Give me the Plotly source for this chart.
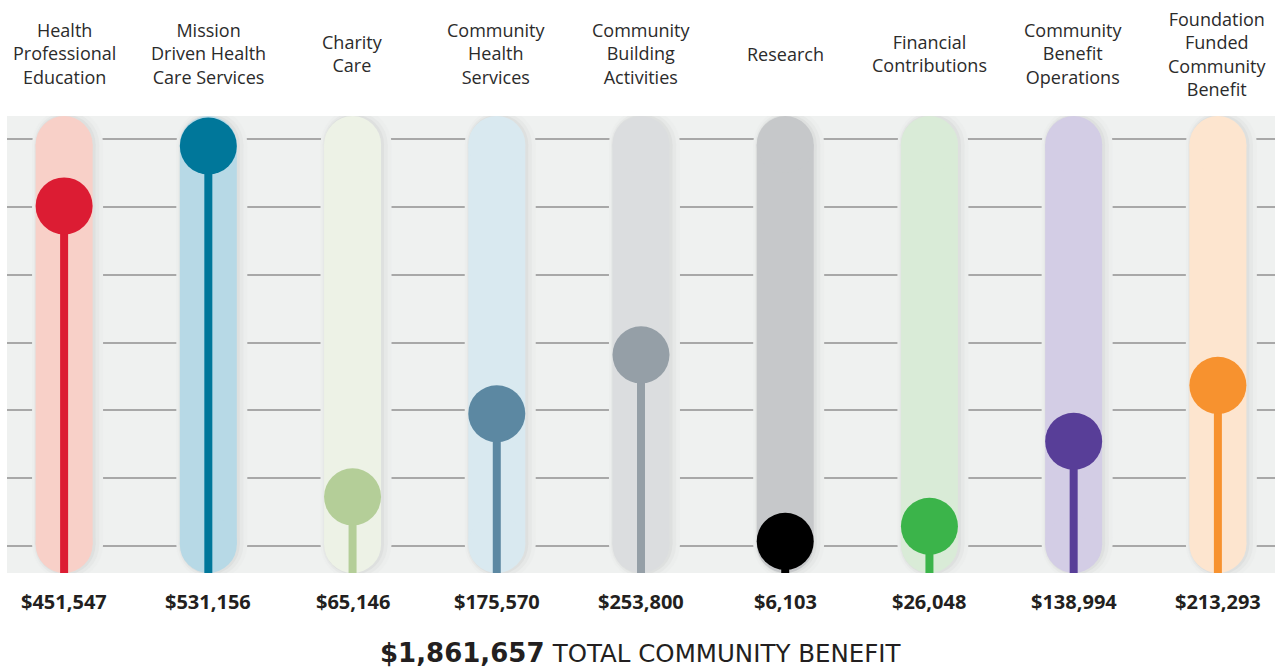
import plotly.graph_objects as go

categories = [
    "Health<br>Professional<br>Education",
    "Mission<br>Driven Health<br>Care Services",
    "Charity<br>Care",
    "Community<br>Health<br>Services",
    "Community<br>Building<br>Activities",
    "Research",
    "Financial<br>Contributions",
    "Community<br>Benefit<br>Operations",
    "Foundation<br>Funded<br>Community<br>Benefit",
]
values = [451547, 531156, 65146, 175570, 253800, 6103, 26048, 138994, 213293]
value_labels = ["$451,547", "$531,156", "$65,146", "$175,570", "$253,800",
                "$6,103", "$26,048", "$138,994", "$213,293"]
total_label = "$1,861,657"
total_text = "TOTAL COMMUNITY BENEFIT"
pill_colors = ["#F8D0C8", "#B7D9E6", "#EDF2E6", "#D9E9F0", "#DBDDDF",
               "#C6C8CA", "#D9EBD7", "#D3CDE5", "#FDE5CF"]
dot_colors = ["#DC1C33", "#00779A", "#B4CE98", "#5C88A2", "#959FA7",
              "#000000", "#3BB44A", "#583E98", "#F7922F"]

Y_MIN, Y_MAX = -36000, 571000
X_MIN, X_MAX = -0.396, 8.396
CAP_R = 37900          # pill end radius in value units (~28.5 px)
PILL_PX = 57

n = len(categories)
xs = list(range(n))

fig = go.Figure()

def add_pill(i, dx, size, color):
    x = xs[i] + dx
    fig.add_trace(go.Scatter(
        x=[x, x], y=[Y_MIN + CAP_R, Y_MAX - CAP_R], mode="lines+markers",
        line=dict(color=color, width=size),
        marker=dict(size=size, color=color, line_width=0),
        hoverinfo="skip", showlegend=False))

# soft shadows (opaque, slightly darker than background)
for i in range(n):
    add_pill(i, 0.024, PILL_PX + 14, "#ECEEED")
    add_pill(i, 0.018, PILL_PX + 8, "#E6E8E7")
    add_pill(i, 0.01, PILL_PX + 3, "#DEE0DF")

# pills
for i in range(n):
    add_pill(i, 0, PILL_PX, pill_colors[i])

# stems
for i in range(n):
    fig.add_trace(go.Scatter(
        x=[xs[i], xs[i]], y=[Y_MIN, values[i]], mode="lines",
        line=dict(color=dot_colors[i], width=8),
        hoverinfo="skip", showlegend=False))

# dots
fig.add_trace(go.Scatter(
    x=xs, y=values, mode="markers",
    marker=dict(size=57, color=dot_colors, line_width=0),
    hoverinfo="skip", showlegend=False))

annotations = []
for i in range(n):
    annotations.append(dict(
        x=xs[i], y=1.136, xref="x", yref="paper", text=categories[i],
        showarrow=False, xanchor="center", yanchor="middle",
        font=dict(family="Open Sans", size=18, color="#2B2B2B"), align="center"))
    annotations.append(dict(
        x=xs[i], y=-0.062, xref="x", yref="paper", text=f"<b>{value_labels[i]}</b>",
        showarrow=False, xanchor="center", yanchor="middle",
        font=dict(family="Open Sans", size=20, color="#231F20")))
annotations.append(dict(
    x=0.5, y=-0.175, xref="paper", yref="paper",
    text=f"<b>{total_label}</b> <span style='font-size:24.5px'>{total_text}</span>",
    showarrow=False, xanchor="center", yanchor="middle",
    font=dict(family="DejaVu Sans", size=26, color="#231F20")))

fig.update_layout(
    width=1278, height=669,
    margin=dict(l=7, r=3, t=116, b=96),
    paper_bgcolor="white", plot_bgcolor="#EFF1F0",
    annotations=annotations,
    xaxis=dict(range=[X_MIN, X_MAX], showgrid=False, zeroline=False,
               showticklabels=False, ticks="", fixedrange=True),
    yaxis=dict(range=[Y_MIN, Y_MAX], tick0=0, dtick=90000, showgrid=True,
               gridcolor="#A8A8A8", gridwidth=1.5, zeroline=False,
               showticklabels=False, ticks="", fixedrange=True),
    showlegend=False,
)

fig.write_html("out.html", config={"displayModeBar": False},
               post_script="document.body.style.margin='0';document.body.style.overflow='hidden';")
